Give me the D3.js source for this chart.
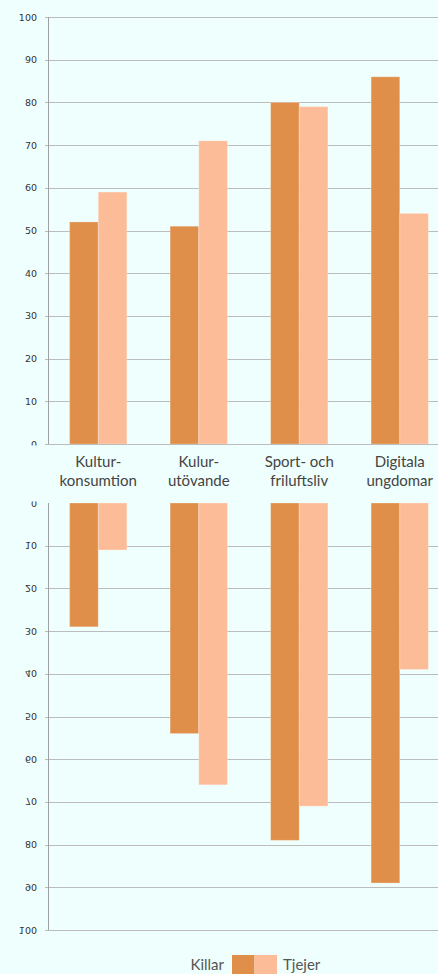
<!DOCTYPE html>
<html>
<head>
<meta charset="utf-8">
<script src="https://cdn.jsdelivr.net/npm/d3@7"></script>
<style>
  html, body { margin: 0; padding: 0; background: #eefffd; }
  svg { display: block; }
</style>
</head>
<body>
<svg id="chart" width="438" height="974"></svg>
<script>
const categories = [["Kultur-", "konsumtion"], ["Kulur-", "utövande"], ["Sport- och", "friluftsliv"], ["Digitala", "ungdomar"]];
const categoryKeys = ["Kulturkonsumtion", "Kulturutövande", "Sport och friluftsliv", "Digitala ungdomar"];
const seriesNames = ["Killar", "Tjejer"];
const topKillar = [52, 51, 80, 86];
const topTjejer = [59, 71, 79, 54];
const bottomKillar = [29, 54, 79, 89];
const bottomTjejer = [11, 66, 71, 39];
const tickValues = [0, 10, 20, 30, 40, 50, 60, 70, 80, 90, 100];
const colors = ["#df8f4a", "#fdbc98"];

const svg = d3.select("#chart");
const bg = "#eefffd";
svg.append("rect").attr("width", 438).attr("height", 974).attr("fill", bg);

const x0 = d3.scaleBand().domain(categoryKeys).range([48, 450]).paddingInner(0.43).paddingOuter(0.215);
const x1 = d3.scaleBand().domain(seriesNames).range([0, x0.bandwidth()]);
const yTop = d3.scaleLinear().domain([0, 100]).range([444, 17]);
const yBot = d3.scaleLinear().domain([0, 100]).range([503, 930]);
const color = d3.scaleOrdinal().domain(seriesNames).range(colors);

function drawPanel(y, killar, tjejer, flipped) {
  const g = svg.append("g");
  // gridlines
  g.selectAll("line.grid").data(tickValues.filter(t => !(flipped && t === 0)))
    .enter().append("line")
    .attr("x1", 45).attr("x2", 438)
    .attr("y1", d => Math.round(y(d)) + 0.5).attr("y2", d => Math.round(y(d)) + 0.5)
    .attr("stroke", "#bcbcbc").attr("stroke-width", 1);
  // bars
  const data = categoryKeys.map((c, i) => ({c, vals: [{s: "Killar", v: killar[i]}, {s: "Tjejer", v: tjejer[i]}]}));
  const grp = g.selectAll("g.cat").data(data).enter().append("g")
    .attr("transform", d => `translate(${x0(d.c)},0)`);
  grp.selectAll("rect").data(d => d.vals).enter().append("rect")
    .attr("x", d => x1(d.s))
    .attr("width", x1.bandwidth())
    .attr("y", d => Math.min(y(0), y(d.v)))
    .attr("height", d => Math.abs(y(d.v) - y(0)))
    .attr("fill", d => color(d.s))
    .attr("stroke", "rgba(255,255,255,0.25)").attr("stroke-width", 1);
  // axis line
  g.append("line").attr("x1", 48.5).attr("x2", 48.5)
    .attr("y1", y(0)).attr("y2", y(100))
    .attr("stroke", "#a0a0a0").attr("stroke-width", 1);
  // tick labels
  g.selectAll("text.tick").data(tickValues).enter().append("text")
    .attr("transform", d => `translate(37,${y(d)}) scale(1,${flipped ? -1 : 1})`)
    .attr("text-anchor", "end")
    .attr("dominant-baseline", "central")
    .attr("font-family", "DejaVu Sans, Verdana, sans-serif")
    .attr("font-size", 9.5)
    .attr("fill", "#333")
    .text(d => d);
}

drawPanel(yTop, topKillar, topTjejer, false);
drawPanel(yBot, bottomKillar, bottomTjejer, true);

// band covering the gap between panels
svg.append("rect").attr("x", 0).attr("y", 445.5).attr("width", 438).attr("height", 56).attr("fill", bg);
// redraw top baseline
svg.append("line").attr("x1", 45).attr("x2", 438).attr("y1", 444.5).attr("y2", 444.5)
  .attr("stroke", "#bcbcbc");

// category labels
const labels = svg.append("g");
categoryKeys.forEach((c, i) => {
  const t = labels.append("text")
    .attr("x", x0(c) + x0.bandwidth() / 2)
    .attr("y", 467)
    .attr("text-anchor", "middle")
    .attr("font-family", "Lato, 'Open Sans', sans-serif")
    .attr("font-size", 15)
    .attr("fill", "#444");
  categories[i].forEach((line, j) => {
    t.append("tspan").attr("x", x0(c) + x0.bandwidth() / 2).attr("dy", j === 0 ? 0 : 19).text(line);
  });
});

// legend
const legend = svg.append("g");
legend.append("text").attr("x", 224).attr("y", 970).attr("text-anchor", "end")
  .attr("font-family", "Lato, 'Open Sans', sans-serif").attr("font-size", 15).attr("fill", "#555").text(seriesNames[0]);
legend.selectAll("rect").data(seriesNames).enter().append("rect")
  .attr("x", (d, i) => 232 + i * 22.5).attr("y", 955).attr("width", 22.5).attr("height", 20)
  .attr("fill", d => color(d));
legend.append("text").attr("x", 283).attr("y", 970).attr("text-anchor", "start")
  .attr("font-family", "Lato, 'Open Sans', sans-serif").attr("font-size", 15).attr("fill", "#555").text(seriesNames[1]);
</script>
</body>
</html>
